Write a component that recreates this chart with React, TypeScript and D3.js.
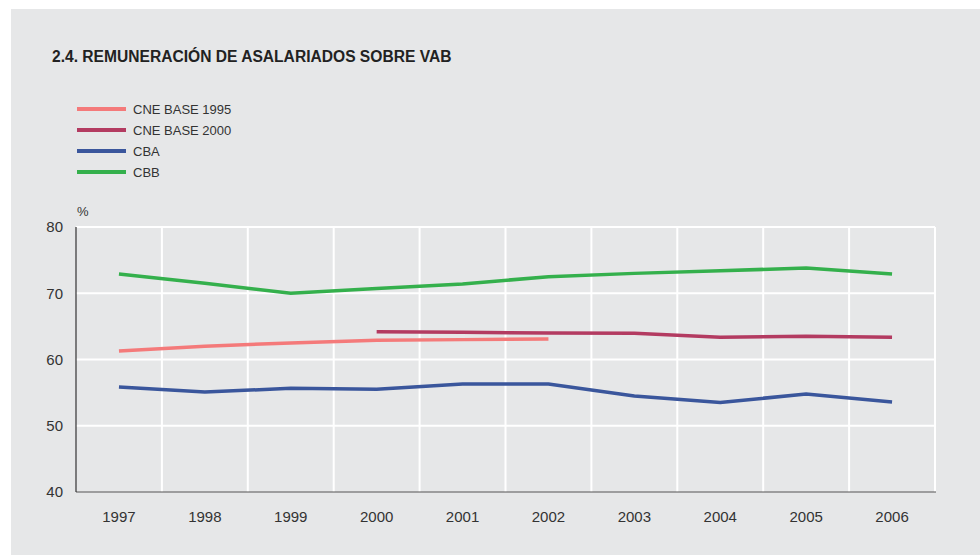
import React from "react";
import * as d3 from "d3";

const years = ["1997", "1998", "1999", "2000", "2001", "2002", "2003", "2004", "2005", "2006"];
const cne1995: (number | null)[] = [61.3, 62.0, 62.5, 62.9, 63.0, 63.1, null, null, null, null];
const cne2000: (number | null)[] = [null, null, null, 64.2, 64.1, 64.0, 63.95, 63.35, 63.5, 63.35];
const cba: (number | null)[] = [55.85, 55.1, 55.65, 55.5, 56.3, 56.3, 54.5, 53.5, 54.8, 53.6];
const cbb: (number | null)[] = [72.9, 71.5, 70.0, 70.7, 71.4, 72.5, 73.0, 73.4, 73.8, 72.9];
const yTicks = [40, 50, 60, 70, 80];
const seriesNames = ["CNE BASE 1995", "CNE BASE 2000", "CBA", "CBB"];
const seriesColors = ["#f47a7a", "#b33b61", "#3a569c", "#34b04c"];

const W = 980;
const H = 555;
const left = 76;
const right = 935;
const top = 227;
const bottom = 492;
const FONT = "'Liberation Sans', Arial, Helvetica, sans-serif";

export default function App() {
  const x = d3.scaleBand<string>().domain(years).range([left, right]).padding(0);
  const y = d3.scaleLinear().domain([40, 80]).range([bottom, top]);
  const data = [cne1995, cne2000, cba, cbb];
  const line = d3
    .line<number | null>()
    .defined((d) => d !== null)
    .x((_, i) => (x(years[i]) as number) + x.bandwidth() / 2)
    .y((d) => y(d as number));

  const boundaries = years.map((yr) => (x(yr) as number) + x.bandwidth());

  return (
    <svg
      width={W}
      height={H}
      style={{ position: "absolute", left: 0, top: 0, display: "block" }}
      fontFamily={FONT}
    >
      <rect x={0} y={0} width={W} height={H} fill="#ffffff" />
      <rect x={11} y={9} width={W - 11} height={H - 9} fill="#e6e7e8" />
      <text x={52} y={62} fontSize={15.6} fontWeight="bold" fill="#222">
        2.4. REMUNERACIÓN DE ASALARIADOS SOBRE VAB
      </text>
      {seriesNames.map((name, i) => (
        <g key={name}>
          <line
            x1={77}
            x2={126}
            y1={109 + i * 21}
            y2={109 + i * 21}
            stroke={seriesColors[i]}
            strokeWidth={4}
          />
          <text x={133} y={109 + i * 21} dy="0.36em" fontSize={13} fill="#333">
            {name}
          </text>
        </g>
      ))}
      <text x={77} y={216} fontSize={13} fill="#333">
        %
      </text>
      {yTicks.filter((t) => t > 40).map((t) => (
        <line key={t} x1={left} x2={right} y1={y(t)} y2={y(t)} stroke="#ffffff" strokeWidth={2} />
      ))}
      {boundaries.map((b, i) => (
        <line key={i} x1={b} x2={b} y1={top} y2={bottom} stroke="#ffffff" strokeWidth={2} />
      ))}
      <line x1={left} x2={right + 1} y1={bottom} y2={bottom} stroke="#555" strokeWidth={1.2} />
      <line x1={left} x2={left} y1={top} y2={bottom} stroke="#333" strokeWidth={1.2} />
      {yTicks.map((t) => (
        <text key={t} x={63} y={y(t)} dy="0.35em" textAnchor="end" fontSize={15} fill="#333">
          {t}
        </text>
      ))}
      {years.map((yr) => (
        <text
          key={yr}
          x={(x(yr) as number) + x.bandwidth() / 2}
          y={522}
          textAnchor="middle"
          fontSize={15}
          fill="#333"
        >
          {yr}
        </text>
      ))}
      {data.map((s, i) => (
        <path key={i} d={line(s) || ""} fill="none" stroke={seriesColors[i]} strokeWidth={3.5} />
      ))}
    </svg>
  );
}
